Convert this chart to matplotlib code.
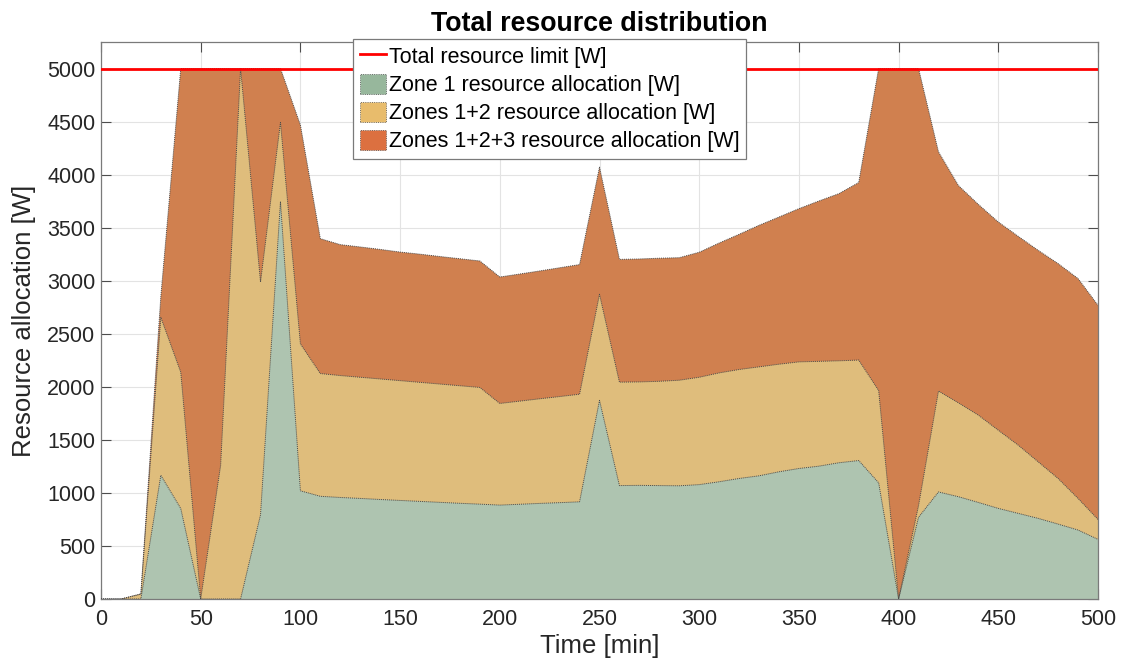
import matplotlib
matplotlib.use("Agg")
import matplotlib.pyplot as plt
from matplotlib.lines import Line2D
from matplotlib.patches import Patch

# ---- data ----
time_min = [0, 10, 20, 30, 40, 50, 60, 70, 80, 90,
            100, 110, 120, 130, 140, 150, 160, 170, 180, 190,
            200, 210, 220, 230, 240, 250, 260, 270, 280, 290,
            300, 310, 320, 330, 340, 350, 360, 370, 380, 390,
            400, 410, 420, 430, 440, 450, 460, 470, 480, 490, 500]

zone1 = [0, 0, 0, 1166, 853, 0, 0, 0, 794, 3746,
         1020, 968, 957, 948, 938, 929, 920, 911, 902, 894,
         885, 893, 901, 908, 916, 1872, 1069, 1071, 1069, 1067,
         1078, 1105, 1136, 1161, 1199, 1230, 1252, 1284, 1305, 1095,
         0, 770, 1009, 964, 910, 854, 807, 760, 706, 650, 562]

zones12 = [0, 0, 47, 2655, 2138, 0, 1260, 5000, 2988, 4491,
           2405, 2125, 2106, 2090, 2074, 2058, 2042, 2026, 2010, 1994,
           1843, 1865, 1887, 1908, 1930, 2872, 2044, 2046, 2052, 2062,
           2090, 2131, 2163, 2188, 2213, 2235, 2240, 2245, 2252, 1965,
           0, 880, 1960, 1849, 1733, 1591, 1450, 1293, 1136, 948, 750]

zones123 = [0, 0, 47, 2850, 5000, 5000, 5000, 5000, 5000, 5000,
            4467, 3396, 3340, 3318, 3295, 3270, 3250, 3228, 3207, 3186,
            3035, 3063, 3092, 3122, 3152, 4070, 3201, 3205, 3212, 3217,
            3268, 3355, 3437, 3522, 3600, 3679, 3751, 3820, 3925, 5000,
            5000, 5000, 4214, 3897, 3719, 3553, 3418, 3286, 3161, 3020, 2768]

resource_limit = 5000

labels = ["Total resource limit [W]",
          "Zone 1 resource allocation [W]",
          "Zones 1+2 resource allocation [W]",
          "Zones 1+2+3 resource allocation [W]"]

xticks = list(range(0, 501, 50))
yticks = list(range(0, 5001, 500))

# ---- style ----
plt.rcParams['font.family'] = ['Liberation Sans', 'DejaVu Sans']

c_green = '#AEC4B0'
c_yellow = '#DFBD7C'
c_orange = '#D0804F'
leg_green = '#97B79C'
leg_yellow = '#E8BC6C'
leg_orange = '#DC7040'
edge_c = '#4a4a4a'

fig = plt.figure(figsize=(11.25, 6.69), dpi=100)
ax = fig.add_axes([101 / 1125, 70 / 669, 997 / 1125, 557 / 669])

for vals, col in [(zones123, c_orange), (zones12, c_yellow), (zone1, c_green)]:
    ax.fill_between(time_min, 0, vals, facecolor=col, edgecolor='none',
                    linewidth=0, zorder=2)
for vals in [zones123, zones12, zone1]:
    ax.plot(time_min, vals, color=edge_c, linewidth=0.7,
            linestyle=(0, (1, 1)), zorder=3)

ax.axhline(resource_limit, color='#FF0000', linewidth=2.0, zorder=4)

ax.set_xlim(0, 500)
ax.set_ylim(0, 5250)
ax.set_xticks(xticks)
ax.set_yticks(yticks)
ax.grid(True, color='#E3E3E3', linewidth=0.8, zorder=0)
ax.set_axisbelow(True)

ax.tick_params(axis='both', which='major', direction='in', length=7,
               width=0.8, color='#4d4d4d', labelsize=15.5,
               labelcolor='#262626', top=True, right=True)
ax.tick_params(axis='x', pad=7)
ax.tick_params(axis='y', pad=4)
for sp in ax.spines.values():
    sp.set_color('#7a7a7a')
    sp.set_linewidth(0.9)

ax.set_xlabel("Time [min]", fontsize=18.5, color='#262626', labelpad=3)
ax.set_ylabel("Resource allocation [W]", fontsize=18.5, color='#262626',
              labelpad=8)
ax.set_title("Total resource distribution", fontsize=19.3,
             fontweight='bold', pad=8)

handles = [
    Line2D([0], [0], color='#FF0000', linewidth=2.0),
    Patch(facecolor=leg_green, edgecolor=edge_c, linestyle=':', linewidth=0.6),
    Patch(facecolor=leg_yellow, edgecolor=edge_c, linestyle=':', linewidth=0.6),
    Patch(facecolor=leg_orange, edgecolor=edge_c, linestyle=':', linewidth=0.6),
]
leg = ax.legend(handles, labels, loc='upper left',
                bbox_to_anchor=(0.2525, 1.006), fontsize=15.5,
                frameon=True, fancybox=False, framealpha=1,
                edgecolor='#7a7a7a', borderpad=0.32, labelspacing=0.27,
                handlelength=1.22, handleheight=1.05, handletextpad=0.13,
                borderaxespad=0)
leg.get_frame().set_linewidth(0.9)
leg.set_zorder(10)

fig.savefig("out.png", dpi=100)
